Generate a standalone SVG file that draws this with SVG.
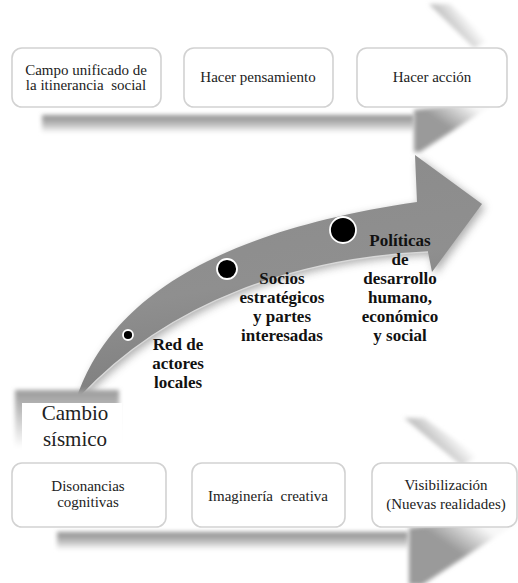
<svg xmlns="http://www.w3.org/2000/svg" width="518" height="583" viewBox="0 0 518 583">
  <style>
    .box { fill: #ffffff; stroke: #d2d2d2; stroke-width: 1.6; }
    text { font-family: "Liberation Serif", Tinos, "DejaVu Serif", serif; }
    .lbl { font-size: 15px; fill: #222222; text-anchor: middle; }
    .alb { font-size: 17px; font-weight: bold; fill: #111111; text-anchor: middle; }
    .big { font-size: 21px; fill: #222222; text-anchor: middle; }
    .dot { fill: #000000; stroke: #ffffff; stroke-width: 1.8; }
  </style>
  <defs>
    <filter id="blur2" x="-20%" y="-50%" width="140%" height="200%"><feGaussianBlur stdDeviation="2"/></filter>
    <filter id="blur3" x="-30%" y="-30%" width="160%" height="160%"><feGaussianBlur stdDeviation="3"/></filter>
    <filter id="soft" x="-20%" y="-20%" width="140%" height="140%"><feGaussianBlur stdDeviation="4"/></filter>
    <linearGradient id="band" x1="0" y1="0" x2="0" y2="1">
      <stop offset="0" stop-color="#8f8f8f"/>
      <stop offset="0.45" stop-color="#b4b4b4"/>
      <stop offset="1" stop-color="#ffffff"/>
    </linearGradient>
    <linearGradient id="diagTop" gradientUnits="userSpaceOnUse" x1="452" y1="130" x2="470" y2="104">
      <stop offset="0" stop-color="#9a9a9a"/>
      <stop offset="1" stop-color="#f8f8f8"/>
    </linearGradient>
    <linearGradient id="diagBot" gradientUnits="userSpaceOnUse" x1="462" y1="555" x2="482" y2="526">
      <stop offset="0" stop-color="#9a9a9a"/>
      <stop offset="1" stop-color="#f8f8f8"/>
    </linearGradient>
    <linearGradient id="edgeTop" gradientUnits="userSpaceOnUse" x1="448" y1="28" x2="466" y2="14">
      <stop offset="0" stop-color="#bcbcbc"/>
      <stop offset="1" stop-color="#ffffff"/>
    </linearGradient>
    <linearGradient id="edgeBot" gradientUnits="userSpaceOnUse" x1="434" y1="443" x2="450" y2="428">
      <stop offset="0" stop-color="#c4c4c4"/>
      <stop offset="1" stop-color="#ffffff"/>
    </linearGradient>
    <linearGradient id="arrowFill" x1="0" y1="0" x2="0.3" y2="1">
      <stop offset="0" stop-color="#8a8a8a"/>
      <stop offset="0.6" stop-color="#8f8f8f"/>
      <stop offset="1" stop-color="#7c7c7c"/>
    </linearGradient>
    <linearGradient id="camShadow" x1="0" y1="0" x2="0" y2="1">
      <stop offset="0" stop-color="#9a9a9a"/>
      <stop offset="1" stop-color="#ffffff"/>
    </linearGradient>
  </defs>

  <rect width="518" height="583" fill="#ffffff"/>

  <!-- background chevron shadows and the main curved arrow -->
  <g id="connectors">
    <g id="top-chevron">
      <polygon points="429,4 474,48 490,40 450,4" fill="url(#edgeTop)" filter="url(#blur2)"/>
      <rect x="42" y="115" width="372" height="18" fill="url(#band)" filter="url(#blur2)"/>
      <polygon points="414,110 500,100 420,152 414,152" fill="url(#diagTop)" filter="url(#blur2)"/>
    </g>
    <g id="bottom-chevron">
      <polygon points="404,418 462,466 478,456 424,418" fill="url(#edgeBot)" filter="url(#blur2)"/>
      <rect x="57" y="532" width="351" height="18" fill="url(#band)" filter="url(#blur2)"/>
      <polygon points="409,528 518,516 518,522 422,585 409,585" fill="url(#diagBot)" filter="url(#blur2)"/>
    </g>
    <g id="curved-arrow">
      <path d="M77,397 C105,315 190,235 417,202 L415,155 L482,204 L432,272 L428,252 C300,258 170,300 80,397 Z" fill="#6a6a6a" opacity="0.55" transform="translate(3,3)" filter="url(#soft)"/>
      <path d="M77,397 C105,315 190,235 417,202 L415,155 L482,204 L432,272 L428,252 C300,258 170,300 80,397 Z" fill="url(#arrowFill)"/>
      <path d="M428,252 C300,258 170,300 80,397" fill="none" stroke="#d8d8d8" stroke-width="1.4"/>
    </g>
  </g>

  <g id="cambio-sismico">
    <rect x="15" y="390" width="104" height="58" fill="url(#camShadow)" filter="url(#blur2)"/>
    <rect x="22" y="403" width="100" height="54" fill="#ffffff"/>
    <text class="big" x="75" y="420">Cambio</text>
    <text class="big" x="75" y="446">sísmico</text>
  </g>

  <g id="dot-1"><circle class="dot" cx="128" cy="335" r="5"/></g>
  <g id="dot-2"><circle class="dot" cx="227" cy="269" r="10"/></g>
  <g id="dot-3"><circle class="dot" cx="343" cy="230" r="13"/></g>

  <g id="label-red">
    <text class="alb" x="178" y="350">Red de</text>
    <text class="alb" x="178" y="369">actores</text>
    <text class="alb" x="178" y="388">locales</text>
  </g>
  <g id="label-socios">
    <text class="alb" x="282" y="284">Socios</text>
    <text class="alb" x="282" y="303">estratégicos</text>
    <text class="alb" x="282" y="322">y partes</text>
    <text class="alb" x="282" y="341">interesadas</text>
  </g>
  <g id="label-politicas">
    <text class="alb" x="400" y="246">Políticas</text>
    <text class="alb" x="400" y="265">de</text>
    <text class="alb" x="400" y="284">desarrollo</text>
    <text class="alb" x="400" y="303">humano,</text>
    <text class="alb" x="400" y="322">económico</text>
    <text class="alb" x="400" y="341">y social</text>
  </g>

  <g id="box-campo">
    <rect class="box" x="12" y="48" width="149" height="59" rx="10"/>
    <text class="lbl" x="86" y="75">Campo unificado de</text>
    <text class="lbl" x="86" y="90" xml:space="preserve">la itinerancia  social</text>
  </g>
  <g id="box-pensamiento">
    <rect class="box" x="184" y="48" width="149" height="59" rx="10"/>
    <text class="lbl" x="258" y="82">Hacer pensamiento</text>
  </g>
  <g id="box-accion">
    <rect class="box" x="357" y="48" width="150" height="59" rx="10"/>
    <text class="lbl" x="432" y="82">Hacer acción</text>
  </g>

  <g id="box-disonancias">
    <rect class="box" x="12" y="463" width="154" height="64" rx="10"/>
    <text class="lbl" x="88" y="491">Disonancias</text>
    <text class="lbl" x="88" y="507">cognitivas</text>
  </g>
  <g id="box-imagineria">
    <rect class="box" x="192" y="463" width="153" height="64" rx="10"/>
    <text class="lbl" x="268" y="501" xml:space="preserve">Imaginería  creativa</text>
  </g>
  <g id="box-visibilizacion">
    <rect class="box" x="372" y="463" width="145" height="64" rx="10"/>
    <text class="lbl" x="446" y="490">Visibilización</text>
    <text class="lbl" x="446" y="509">(Nuevas realidades)</text>
  </g>
</svg>
